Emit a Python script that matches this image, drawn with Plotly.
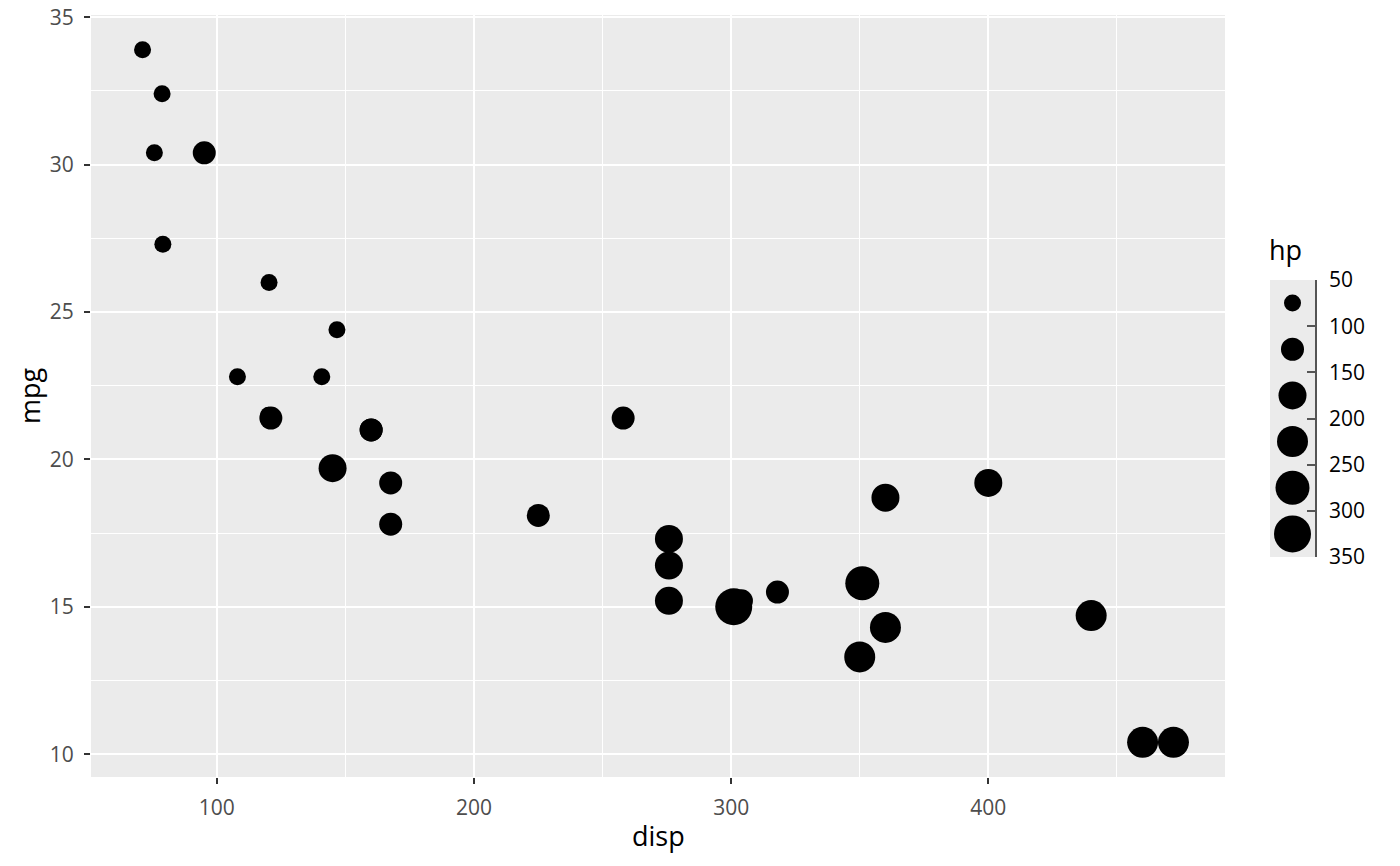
import pandas as pd
import plotly.graph_objects as go

# mtcars: displacement vs mpg, point size binned by horsepower
cars = [
    "Mazda RX4", "Mazda RX4 Wag", "Datsun 710", "Hornet 4 Drive",
    "Hornet Sportabout", "Valiant", "Duster 360", "Merc 240D", "Merc 230",
    "Merc 280", "Merc 280C", "Merc 450SE", "Merc 450SL", "Merc 450SLC",
    "Cadillac Fleetwood", "Lincoln Continental", "Chrysler Imperial",
    "Fiat 128", "Honda Civic", "Toyota Corolla", "Toyota Corona",
    "Dodge Challenger", "AMC Javelin", "Camaro Z28", "Pontiac Firebird",
    "Fiat X1-9", "Porsche 914-2", "Lotus Europa", "Ford Pantera L",
    "Ferrari Dino", "Maserati Bora", "Volvo 142E",
]
disp = [160, 160, 108, 258, 360, 225, 360, 146.7, 140.8, 167.6, 167.6,
        275.8, 275.8, 275.8, 472, 460, 440, 78.7, 75.7, 71.1, 120.1, 318,
        304, 350, 400, 79, 120.3, 95.1, 351, 145, 301, 121]
mpg = [21.0, 21.0, 22.8, 21.4, 18.7, 18.1, 14.3, 24.4, 22.8, 19.2, 17.8,
       16.4, 17.3, 15.2, 10.4, 10.4, 14.7, 32.4, 30.4, 33.9, 21.5, 15.5,
       15.2, 13.3, 19.2, 27.3, 26.0, 30.4, 15.8, 19.7, 15.0, 21.4]
hp = [110, 110, 93, 110, 175, 105, 245, 62, 95, 123, 123, 180, 180, 180,
      205, 215, 230, 66, 52, 65, 97, 150, 150, 245, 175, 66, 91, 113, 264,
      175, 335, 109]

hp_breaks = [50, 100, 150, 200, 250, 300, 350]
x_ticks = [100, 200, 300, 400]
y_ticks = [10, 15, 20, 25, 30, 35]

# marker diameter (px) for each hp bin, smallest to largest
BIN_SIZES = [17, 23, 28, 31, 34, 37]

W, H = 1400, 866
# the page body adds an 8px margin, so pixel targets are shifted back by it
SHIFT = 8
PANEL = dict(left=91, right=1225, top=15, bottom=777)
KEY = dict(left=1270, right=1315, top=280, bottom=557)

PANEL_BG = "#EBEBEB"
TICK_GREY = "#4D4D4D"
FONT = "Open Sans, Noto Sans, sans-serif"
TEXT_SIZE = 21
TITLE_SIZE = 27


def fx(p):
    return (p - SHIFT) / W


def fy(p):
    return 1 - (p - SHIFT) / H


df = pd.DataFrame({"car": cars, "disp": disp, "mpg": mpg, "hp": hp})
df["bin"] = pd.cut(df["hp"], bins=hp_breaks, right=True, labels=False)
df["size"] = [BIN_SIZES[int(b)] for b in df["bin"]]


def expand(lo, hi, frac=0.05):
    pad = (hi - lo) * frac
    return [lo - pad, hi + pad]


x_range = expand(df["disp"].min(), df["disp"].max())
y_range = expand(df["mpg"].min(), df["mpg"].max())


def minors(ticks):
    step = ticks[1] - ticks[0]
    return [ticks[0] - step / 2] + [t + step / 2 for t in ticks]


fig = go.Figure()

fig.add_trace(go.Scatter(
    x=df["disp"], y=df["mpg"], mode="markers",
    marker=dict(size=df["size"], color="black", line=dict(width=0), opacity=1),
    hovertext=df["car"], customdata=df["hp"],
    hovertemplate="%{hovertext}<br>disp=%{x}<br>mpg=%{y}<br>hp=%{customdata}<extra></extra>",
    showlegend=False,
))

# size guide drawn as a tiny subplot: one dot per hp bin
mids = [(a + b) / 2 for a, b in zip(hp_breaks[:-1], hp_breaks[1:])]
fig.add_trace(go.Scatter(
    x=[0.5] * len(mids), y=mids, mode="markers",
    marker=dict(size=BIN_SIZES, color="black", line=dict(width=0), opacity=1),
    xaxis="x2", yaxis="y2", hoverinfo="skip", showlegend=False,
))

axis_common = dict(
    showgrid=True, gridcolor="white", gridwidth=2.2, zeroline=False,
    ticks="outside", ticklen=6, tickwidth=2, tickcolor="#333333",
    tickfont=dict(family=FONT, size=TEXT_SIZE, color=TICK_GREY),
    showline=False, automargin=False, ticklabelstandoff=6,
    ticklabeloverflow="allow",
)

fig.update_layout(
    width=W, height=H,
    margin=dict(l=0, r=0, t=0, b=0),
    paper_bgcolor="white",
    plot_bgcolor=PANEL_BG,
    font=dict(family=FONT, color="black"),
    xaxis=dict(
        domain=[fx(PANEL["left"]), fx(PANEL["right"])],
        range=x_range, tickvals=x_ticks, anchor="y",
        minor=dict(tickvals=minors(x_ticks), showgrid=True,
                   gridcolor="white", gridwidth=1.1, ticks=""),
        **axis_common,
    ),
    yaxis=dict(
        domain=[fy(PANEL["bottom"]), fy(PANEL["top"])],
        range=y_range, tickvals=y_ticks, anchor="x",
        minor=dict(tickvals=minors(y_ticks), showgrid=True,
                   gridcolor="white", gridwidth=1.1, ticks=""),
        **axis_common,
    ),
    xaxis2=dict(
        domain=[fx(KEY["left"]), fx(KEY["right"])],
        range=[0, 1], anchor="y2", visible=False, fixedrange=True,
        automargin=False,
    ),
    yaxis2=dict(
        domain=[fy(KEY["bottom"]), fy(KEY["top"])],
        range=[hp_breaks[-1], hp_breaks[0]], anchor="x2", side="right",
        tickvals=hp_breaks, showgrid=False, zeroline=False,
        showline=True, linecolor="#555555", linewidth=1.5,
        ticks="inside", ticklen=8, tickwidth=1.5, tickcolor="#555555",
        tickfont=dict(family=FONT, size=TEXT_SIZE, color="black"),
        ticklabelstandoff=8, ticklabeloverflow="allow",
        fixedrange=True, automargin=False,
    ),
    annotations=[
        dict(text="disp", x=fx((PANEL["left"] + PANEL["right"]) / 2),
             y=fy(835), xref="paper", yref="paper", showarrow=False,
             xanchor="center", yanchor="middle",
             font=dict(family=FONT, size=TITLE_SIZE, color="black")),
        dict(text="mpg", x=fx(29), y=fy((PANEL["top"] + PANEL["bottom"]) / 2),
             xref="paper", yref="paper", showarrow=False, textangle=-90,
             xanchor="center", yanchor="middle",
             font=dict(family=FONT, size=TITLE_SIZE, color="black")),
        dict(text="hp", x=fx(1267), y=fy(250), xref="paper", yref="paper",
             showarrow=False, xanchor="left", yanchor="middle",
             font=dict(family=FONT, size=TITLE_SIZE, color="black")),
    ],
)

fig.write_html("out.html")
